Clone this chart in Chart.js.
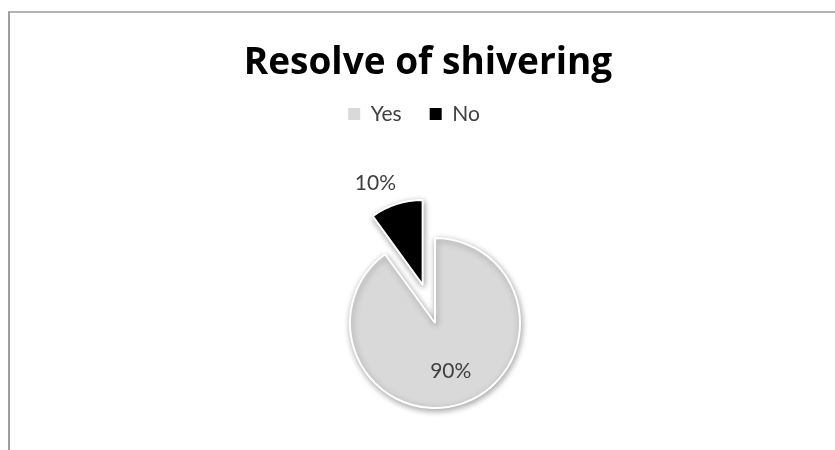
<!DOCTYPE html>
<html><head><meta charset="utf-8">
<script src="https://cdn.jsdelivr.net/npm/chart.js@4"></script>
<style>
html,body{margin:0;padding:0;background:#fff;}
#wrap{position:relative;width:835px;height:450px;overflow:hidden;}
#frame{position:absolute;left:8px;top:11px;right:-4px;bottom:-4px;border-top:2px solid #b3b3b3;border-left:2px solid #9e9e9e;pointer-events:none;}
canvas{position:absolute;left:0;top:0;}
</style></head><body>
<div id="wrap"><canvas id="c" width="835" height="450"></canvas><div id="frame"></div></div>
<script>
// ---- data ----
const categories = ['Yes', 'No'];
const values = [90, 10];
const chartTitle = 'Resolve of shivering';

// ---- styles ----
const sliceColors = ['#d9d9d9', '#000000'];
const explode = [0, 40];

// Arc element whose offset is a plain translation along the slice's mid angle
class ExplodedArc extends Chart.ArcElement {
  draw(ctx) {
    const opts = this.options;
    const off = opts.offset || 0;
    if (!off) { super.draw(ctx); return; }
    const mid = (this.startAngle + this.endAngle) / 2;
    ctx.save();
    ctx.translate(Math.cos(mid) * off, Math.sin(mid) * off);
    this.options = Object.assign({}, opts, { offset: 0 });
    super.draw(ctx);
    this.options = opts;
    ctx.restore();
  }
}
ExplodedArc.id = 'explodedArc';

class ExplodedPieController extends Chart.PieController {}
ExplodedPieController.id = 'explodedPie';
ExplodedPieController.defaults = { dataElementType: 'explodedArc' };

Chart.register(ExplodedArc, ExplodedPieController);

const PIE_CX = 435, PIE_CY = 323, PIE_R = 85;

const layoutPlugin = {
  id: 'layoutTweaks',
  afterLayout(chart) {
    chart.chartArea = {
      left: PIE_CX - PIE_R, right: PIE_CX + PIE_R,
      top: PIE_CY - PIE_R, bottom: PIE_CY + PIE_R,
      width: 2 * PIE_R, height: 2 * PIE_R
    };
    const lg = chart.legend;
    const dx = -14, dy = -14;
    lg.left += dx; lg.right += dx; lg.top += dy; lg.bottom += dy;
  }
};

const shadowPlugin = {
  id: 'pieShadow',
  beforeDatasetsDraw(chart) {
    const ctx = chart.ctx;
    ctx.save();
    ctx.shadowColor = 'rgba(0,0,0,0.35)';
    ctx.shadowBlur = 6;
    ctx.shadowOffsetX = 1;
    ctx.shadowOffsetY = 2;
  },
  afterDatasetsDraw(chart) {
    chart.ctx.restore();
  }
};

const labelPlugin = {
  id: 'sliceLabels',
  afterDatasetsDraw(chart) {
    const ctx = chart.ctx;
    const meta = chart.getDatasetMeta(0);
    const total = values.reduce((a, b) => a + b, 0);
    ctx.save();
    ctx.font = '21px Lato';
    ctx.fillStyle = '#404040';
    meta.data.forEach((arc, i) => {
      const p = arc.getProps(['x', 'y', 'startAngle', 'endAngle', 'outerRadius'], true);
      const off = arc.options.offset || 0;
      const mid = (p.startAngle + p.endAngle) / 2;
      const cos = Math.cos(mid), sin = Math.sin(mid);
      const text = Math.round(values[i] / total * 100) + '%';
      if (off > 0) {
        const d = off + p.outerRadius + 11;
        ctx.textAlign = cos < 0 ? 'right' : 'left';
        ctx.textBaseline = sin < 0 ? 'bottom' : 'top';
        ctx.fillText(text, p.x + cos * d + 3, p.y + sin * d);
      } else {
        const d = p.outerRadius * 0.6;
        ctx.textAlign = 'center';
        ctx.textBaseline = 'middle';
        ctx.fillText(text, p.x + cos * d, p.y + sin * d);
      }
    });
    ctx.restore();
  }
};

new Chart(document.getElementById('c'), {
  type: 'explodedPie',
  data: {
    labels: categories,
    datasets: [{
      data: values,
      backgroundColor: sliceColors,
      borderColor: '#ffffff',
      borderWidth: 2,
      offset: explode,
      radius: PIE_R,
      clip: false
    }]
  },
  options: {
    responsive: false,
    animation: false,
    events: [],
    layout: { padding: { left: 21, right: 0, top: 0, bottom: 0 } },
    plugins: {
      tooltip: { enabled: false },
      title: {
        display: true,
        text: chartTitle,
        color: '#000000',
        font: { family: '"Open Sans"', size: 37, weight: 'bold' },
        padding: { top: 41, bottom: 4 }
      },
      legend: {
        display: true,
        position: 'top',
        labels: {
          color: '#404040',
          font: { family: 'Lato', size: 21 },
          boxWidth: 12,
          boxHeight: 12,
          padding: 28,
          generateLabels(chart) {
            return Chart.DoughnutController.overrides.plugins.legend.labels
              .generateLabels(chart).map(l => Object.assign(l, { lineWidth: 0 }));
          }
        }
      }
    }
  },
  plugins: [layoutPlugin, shadowPlugin, labelPlugin]
});
</script>
</body></html>
